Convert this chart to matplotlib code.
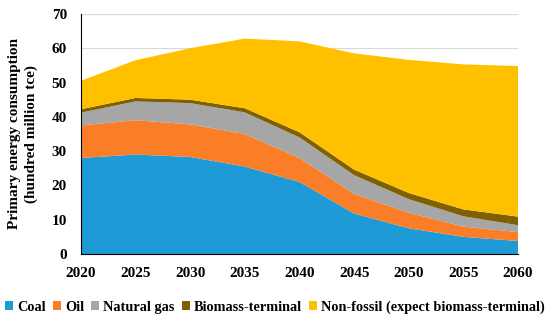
import matplotlib
matplotlib.use("Agg")
import matplotlib.pyplot as plt
from matplotlib.patches import Patch

years = [2020, 2025, 2030, 2035, 2040, 2045, 2050, 2055, 2060]
coal = [28.0, 29.0, 28.3, 25.5, 21.0, 11.8, 7.5, 5.0, 3.8]
oil = [9.5, 10.0, 9.5, 9.5, 7.0, 5.7, 4.5, 3.0, 2.6]
gas = [3.7, 5.5, 6.2, 6.3, 6.0, 5.5, 4.0, 3.0, 2.0]
biomass = [1.0, 1.0, 1.0, 1.2, 1.5, 1.6, 1.8, 2.0, 2.5]
nonfossil = [8.3, 11.0, 15.0, 20.3, 26.5, 33.9, 38.8, 42.3, 43.9]

labels = ["Coal", "Oil", "Natural gas", "Biomass-terminal",
          "Non-fossil (expect biomass-terminal)"]
colors = ["#1E9BD7", "#FA7D28", "#A6A6A6", "#7F6000", "#FFC000"]

plt.rcParams['font.family'] = ['Liberation Serif', 'DejaVu Serif']
plt.rcParams['font.weight'] = 'bold'

fig = plt.figure(figsize=(5.5, 3.24), dpi=100)
ax = fig.add_axes([0.147, 0.216, 0.795, 0.741])

ax.stackplot(years, coal, oil, gas, biomass, nonfossil, colors=colors,
             linewidth=0, zorder=2)

ax.set_xlim(2020, 2060)
ax.set_ylim(0, 70)
ax.set_xticks(years)
ax.set_yticks(range(0, 71, 10))
ax.yaxis.grid(True, color="#D9D9D9", linewidth=0.8, zorder=0)
ax.set_axisbelow(True)
for s in ["top", "right"]:
    ax.spines[s].set_visible(False)
ax.spines["left"].set_color("black")
ax.spines["bottom"].set_color("black")
ax.tick_params(axis="x", length=0, labelsize=11, pad=9)
ax.tick_params(axis="y", length=0, labelsize=11, pad=10)
for lab in ax.get_xticklabels() + ax.get_yticklabels():
    lab.set_fontweight("bold")

ax.set_ylabel("Primary energy consumption\n(hundred million tce)",
              fontsize=11, fontweight="bold", labelpad=10, linespacing=1.35)

handles = [Patch(facecolor=c, edgecolor="none") for c in colors]
fig.legend(handles, labels, loc="center", bbox_to_anchor=(0.5, 0.052),
           ncol=5, frameon=False, handlelength=0.55,
           handleheight=0.55, handletextpad=0.3, columnspacing=0.5,
           prop={"weight": "bold", "size": 10.3})

fig.savefig("out.png", dpi=100)
